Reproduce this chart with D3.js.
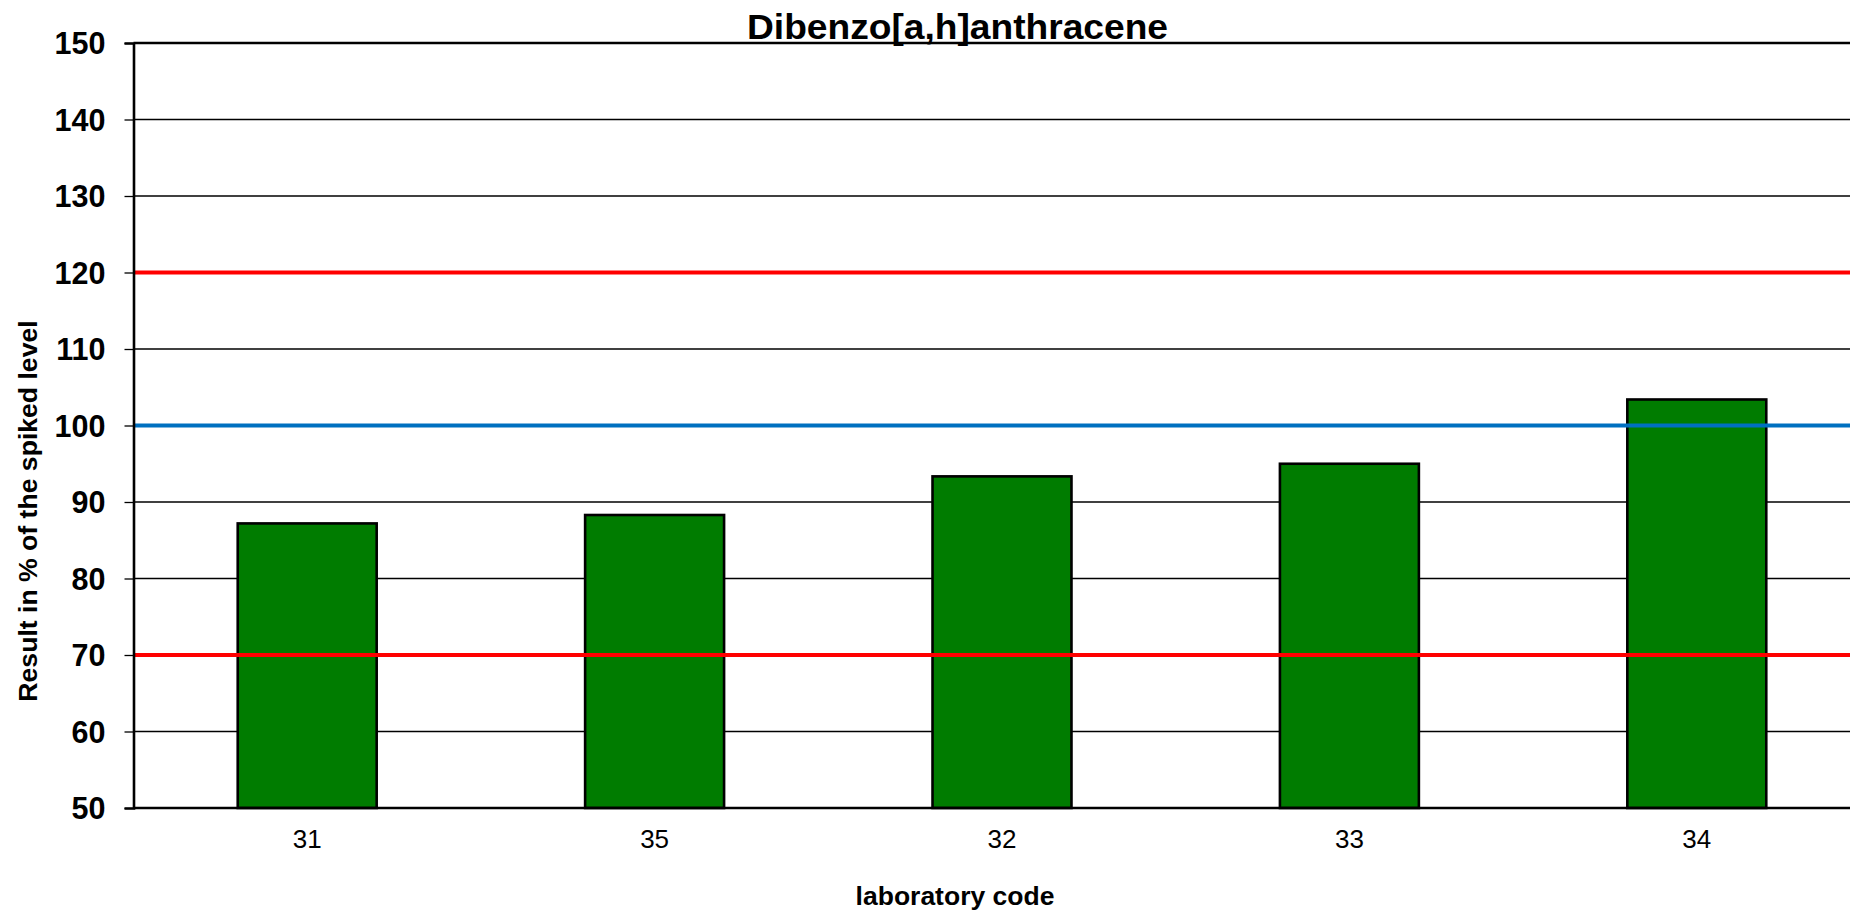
<!DOCTYPE html>
<html>
<head>
<meta charset="utf-8">
<script src="https://cdn.jsdelivr.net/npm/d3@7"></script>
<style>
  html, body { margin: 0; padding: 0; background: #ffffff; overflow: hidden; }
  svg { display: block; font-family: "Liberation Sans", Arial, Helvetica, sans-serif; }
</style>
</head>
<body>
<svg id="chart" width="1850" height="914"></svg>
<script>
const categories = ["31", "35", "32", "33", "34"];
const values = [87.2, 88.3, 93.35, 95.0, 103.4];
const yTicks = [50, 60, 70, 80, 90, 100, 110, 120, 130, 140, 150];
const limitLines = [120, 70];
const targetLine = [100];
const chartTitle = "Dibenzo[a,h]anthracene";
const xTitle = "laboratory code";
const yTitle = "Result in % of the spiked level";

const svg = d3.select("#chart");
const plotLeft = 133.5, plotRight = 1870.5, plotTop = 43, plotBottom = 808;

const x = d3.scaleBand().domain(categories).range([plotLeft, plotRight])
  .paddingInner(0.6).paddingOuter(0.3);
const y = d3.scaleLinear().domain([50, 150]).range([plotBottom, plotTop]);

// gridlines
svg.append("g").selectAll("line").data(yTicks.filter(d => d > 50 && d < 150))
  .join("line")
  .attr("x1", plotLeft).attr("x2", 1850)
  .attr("y1", d => y(d)).attr("y2", d => y(d))
  .attr("stroke", "#000").attr("stroke-width", 1.3);

// top frame line
svg.append("line").attr("x1", plotLeft).attr("x2", 1850)
  .attr("y1", y(150)).attr("y2", y(150))
  .attr("stroke", "#000").attr("stroke-width", 2.6);

// bars
svg.append("g").selectAll("rect").data(categories)
  .join("rect")
  .attr("x", d => x(d))
  .attr("width", x.bandwidth())
  .attr("y", (d, i) => y(values[i]))
  .attr("height", (d, i) => y(50) - y(values[i]))
  .attr("fill", "#007c00")
  .attr("stroke", "#000").attr("stroke-width", 2.6);

// limit lines
svg.append("g").selectAll("line").data(limitLines)
  .join("line")
  .attr("x1", plotLeft).attr("x2", 1850)
  .attr("y1", d => y(d)).attr("y2", d => y(d))
  .attr("stroke", "#ff0000").attr("stroke-width", 4);

svg.append("g").selectAll("line").data(targetLine)
  .join("line")
  .attr("x1", plotLeft).attr("x2", 1850)
  .attr("y1", d => y(d)).attr("y2", d => y(d))
  .attr("stroke", "#0070c0").attr("stroke-width", 4);

// y axis
const yAxis = svg.append("g").attr("transform", `translate(${plotLeft},0)`)
  .call(d3.axisLeft(y).tickValues(yTicks).tickSize(9).tickPadding(19).tickFormat(d3.format("d")));
yAxis.select(".domain").attr("stroke", "#000").attr("stroke-width", 2.6);
yAxis.selectAll(".tick line").attr("stroke", "#000").attr("stroke-width", 1.3);
yAxis.selectAll(".tick text")
  .attr("font-family", "'Liberation Sans', Arial, sans-serif")
  .attr("font-size", 30.5).attr("font-weight", "bold").attr("fill", "#000")
  .attr("dy", "0.36em");

// x axis
const xAxis = svg.append("g").attr("transform", `translate(0,${plotBottom})`)
  .call(d3.axisBottom(x).tickSize(0).tickPadding(22));
xAxis.select(".domain").attr("stroke", "#000").attr("stroke-width", 2.6)
  .attr("d", `M${plotLeft},0H1850`);
xAxis.selectAll(".tick text")
  .attr("font-family", "'Liberation Sans', Arial, sans-serif")
  .attr("font-size", 26).attr("fill", "#000");

// titles
svg.append("text").attr("x", 957.5).attr("y", 39)
  .attr("text-anchor", "middle").attr("font-size", 35).attr("font-weight", "bold")
  .attr("textLength", 421).attr("lengthAdjust", "spacingAndGlyphs")
  .text(chartTitle);

svg.append("text").attr("x", 955).attr("y", 905)
  .attr("text-anchor", "middle").attr("font-size", 26.5).attr("font-weight", "bold")
  .text(xTitle);

svg.append("text")
  .attr("transform", "translate(37,511) rotate(-90)")
  .attr("text-anchor", "middle").attr("font-size", 26.6).attr("font-weight", "bold")
  .text(yTitle);
</script>
</body>
</html>
